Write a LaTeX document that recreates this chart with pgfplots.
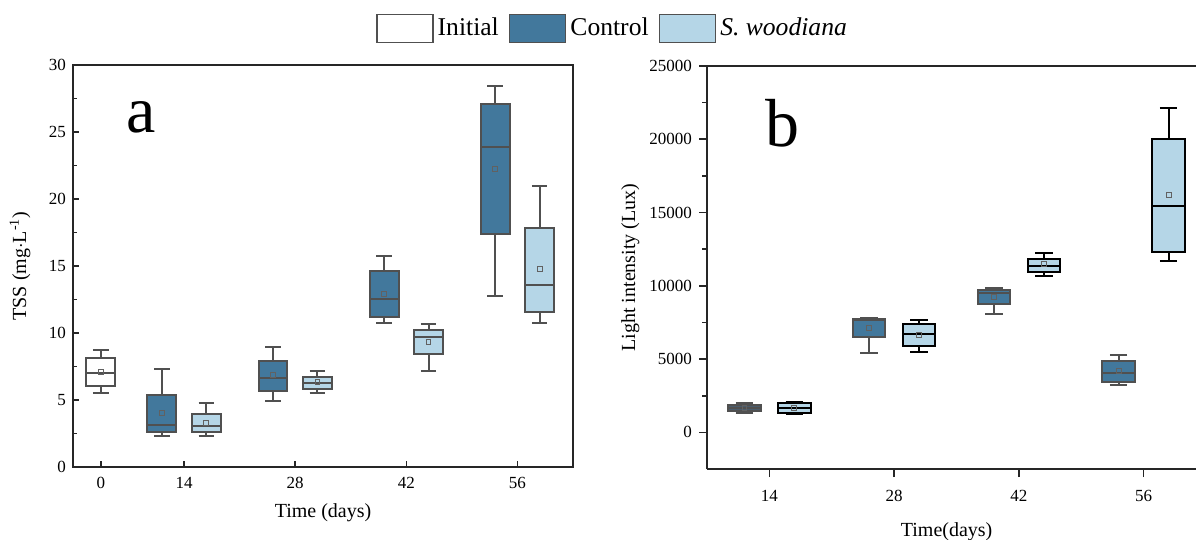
\documentclass[border=0pt]{standalone}
\usepackage{fontspec}
\setmainfont{Liberation Serif}
\usepackage{pgfplots}
\pgfplotsset{compat=1.18}
\usepgfplotslibrary{statistics}

\definecolor{ctrl}{RGB}{66,120,156}
\definecolor{ctrldk}{RGB}{74,92,108}
\definecolor{sw}{RGB}{181,214,231}
\definecolor{edge}{RGB}{80,80,80}

\pgfplotsset{
  bx/.style n args={6}{boxplot prepared={draw direction=y, draw position=#1,
      lower whisker=#2, lower quartile=#3, median=#4,
      upper quartile=#5, upper whisker=#6,
      box extend=0.26, whisker extend=0.14}, line width=1pt},
  meanmk/.style={only marks, mark=square, mark size=1.2pt,
      mark options={draw=edge!90, line width=0.45pt}},
  common/.style={
    scale only axis, clip=false,
    /pgf/number format/assume math mode=true,
    /pgf/number format/1000 sep={},
    scaled y ticks=false,
    minor y tick num=1,
    axis line style={line width=0.9pt, black!85},
    every tick/.style={black!85, line width=0.8pt},
    tick label style={font=\fontsize{8.5}{10}\selectfont},
    label style={font=\fontsize{10}{12}\selectfont},
  },
}

\begin{document}
\begin{tikzpicture}

% panel a: TSS
\begin{axis}[common,
  at={(36.5pt,-233.5pt)}, anchor=south west,
  width=250pt, height=201pt,
  xmin=0, xmax=4.5, ymin=0, ymax=30,
  xtick={0.25,1,2,3,4}, xticklabels={0,14,28,42,56},
  ytick={0,5,...,30},
  tick align=inside, tick pos=left,
  major tick length=3pt, minor tick length=1.8pt,
  xticklabel style={yshift=-1.5pt},
  xlabel={Time (days)}, ylabel={TSS (mg$\cdot$L\textsuperscript{-1})},
  xlabel style={at={(axis description cs:0.5,-0.114)}, anchor=center},
  ylabel style={at={(axis description cs:-0.106,0.5)}, anchor=center},
  legend columns=3,
  legend style={at={(1.081,1.091)}, anchor=center, draw=none, fill=none,
    font=\fontsize{12.8}{14}\selectfont,
    /tikz/every even column/.append style={column sep=3pt},
    nodes={inner sep=2pt}},
]
\addlegendimage{legend image code/.code={\draw[draw=edge, fill=white, line width=0.8pt] (0pt,-7pt) rectangle (28pt,7pt);}}
\addlegendentry{Initial}
\addlegendimage{legend image code/.code={\draw[draw=edge, fill=ctrl, line width=0.8pt] (0pt,-7pt) rectangle (28pt,7pt);}}
\addlegendentry{Control}
\addlegendimage{legend image code/.code={\draw[draw=edge, fill=sw, line width=0.8pt] (0pt,-7pt) rectangle (28pt,7pt);}}
\addlegendentry{\textit{S. woodiana}}

\addplot[bx={0.25}{5.55}{6.05}{7.05}{8.17}{8.76}, draw=edge, fill=white] coordinates {};
\addplot[bx={0.8}{2.32}{2.64}{3.14}{5.35}{7.34}, draw=edge, fill=ctrl] coordinates {};
\addplot[bx={1.2}{2.32}{2.64}{3.06}{3.98}{4.80}, draw=edge, fill=sw] coordinates {};
\addplot[bx={1.8}{4.95}{5.65}{6.62}{7.92}{8.96}, draw=edge, fill=ctrl] coordinates {};
\addplot[bx={2.2}{5.53}{5.83}{6.27}{6.72}{7.14}, draw=edge, fill=sw] coordinates {};
\addplot[bx={2.8}{10.78}{11.23}{12.57}{14.61}{15.71}, draw=edge, fill=ctrl] coordinates {};
\addplot[bx={3.2}{7.14}{8.41}{9.71}{10.21}{10.70}, draw=edge, fill=sw] coordinates {};
\addplot[bx={3.8}{12.75}{17.40}{23.87}{27.11}{28.45}, draw=edge, fill=ctrl] coordinates {};
\addplot[bx={4.2}{10.75}{11.58}{13.59}{17.87}{20.99}, draw=edge, fill=sw] coordinates {};

\addplot[meanmk] coordinates {(0.25,7.1) (0.8,4.03) (1.2,3.31) (1.8,6.85) (2.2,6.32)
  (2.8,12.92) (3.2,9.31) (3.8,22.26) (4.2,14.76)};

\node at (axis description cs:0.137,0.871) {\fontsize{33}{36}\selectfont a};
\end{axis}

% panel b: light intensity, values in thousands of lux (tick labels in lux)
\begin{axis}[common,
  at={(353.5pt,-234.5pt)}, anchor=south west,
  width=244.5pt, height=201.5pt,
  xmin=0.5, xmax=4.42, ymin=-2.5, ymax=25,
  axis x line*=box, axis y line*=left,
  xtick={1,2,3,4}, xticklabels={14,28,42,56},
  ytick={0,5,...,25}, yticklabels={0,5000,10000,15000,20000,25000},
  tick align=outside, xtick pos=left, ytick pos=left,
  major tick length=4pt, minor tick length=2.5pt,
  xticklabel style={yshift=-3pt},
  xlabel={Time(days)}, ylabel={Light intensity (Lux)},
  xlabel style={at={(axis description cs:0.49,-0.156)}, anchor=center},
  ylabel style={at={(axis description cs:-0.157,0.5)}, anchor=center},
]
\addplot[bx={0.8}{1.318}{1.455}{1.659}{1.864}{2.000}, draw=edge, fill=ctrldk] coordinates {};
\addplot[bx={1.2}{1.273}{1.318}{1.636}{2.000}{2.091}, draw=black, fill=sw] coordinates {};
\addplot[bx={1.8}{5.386}{6.477}{7.650}{7.727}{7.773}, draw=edge, fill=ctrl] coordinates {};
\addplot[bx={2.2}{5.477}{5.864}{6.705}{7.386}{7.636}, draw=black, fill=sw] coordinates {};
\addplot[bx={2.8}{8.091}{8.750}{9.477}{9.727}{9.818}, draw=edge, fill=ctrl] coordinates {};
\addplot[bx={3.2}{10.682}{10.977}{11.364}{11.841}{12.250}, draw=black, fill=sw] coordinates {};
\addplot[bx={3.8}{3.250}{3.432}{4.023}{4.841}{5.273}, draw=edge, fill=ctrl] coordinates {};
\addplot[bx={4.2}{11.682}{12.341}{15.455}{20.000}{22.136}, draw=black, fill=sw] coordinates {};

\addplot[meanmk] coordinates {(0.8,1.660) (1.2,1.660) (1.8,7.114) (2.2,6.636) (2.8,9.250)
  (3.2,11.477) (3.8,4.182) (4.2,16.182)};

\node at (axis description cs:0.155,0.859) {\fontsize{34}{36}\selectfont b};
\end{axis}

\pgfresetboundingbox
\useasboundingbox (0,0) rectangle (598pt,-270pt);
\end{tikzpicture}
\end{document}
